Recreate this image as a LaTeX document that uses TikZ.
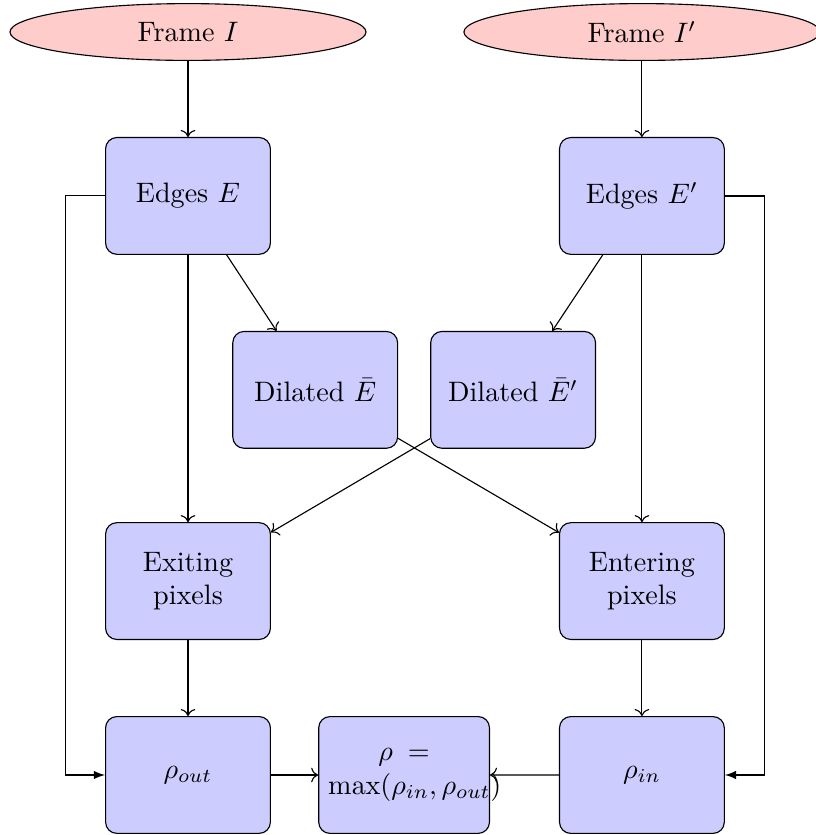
\documentclass[tikz,border=0pt]{standalone}
\usepackage{amsmath}
\usepackage{tikz}
\usetikzlibrary{shapes.geometric, arrows.meta, positioning}

\begin{document}
\begin{tikzpicture}[
    node distance=0.95cm and 0.4cm,
    framenode/.style={ellipse, draw, fill=red!20, minimum width=4.45cm, minimum height=0.71cm},
    procbox/.style={rectangle, draw, rounded corners, fill=blue!20, minimum width=2.06cm, minimum height=1.46cm, text width=1.8cm, align=center},
    arrow/.style={->},
    looparrow/.style={-latex},
]
    \useasboundingbox (0,0) rectangle (10.2,-10.4375);

    % Frames
    \node[framenode] (frameI) at (2.35,-0.4) {Frame $I$};
    \node[framenode, right=1.21cm of frameI] (frameIp) {Frame $I'$};

    % Edge maps
    \node[procbox, below=of frameI] (edgesE) {Edges $E$};
    \node[procbox, below=of frameIp] (edgesEp) {Edges $E'$};

    % Dilated edges
    \node[procbox, below=of edgesE, xshift=1.59cm] (dilE) {Dilated $\bar{E}$};
    \node[procbox, right=of dilE] (dilEp) {Dilated $\bar{E}'$};

    % Pixel sets
    \node[procbox, below=3.34cm of edgesE] (exiting) {Exiting pixels};
    \node[procbox, below=3.34cm of edgesEp] (entering) {Entering pixels};

    % Ratios
    \node[procbox, below=of exiting] (rhoOut) {$\rho_{out}$};
    \node[procbox, below=of entering] (rhoIn) {$\rho_{in}$};
    \node[procbox, right=0.59cm of rhoOut, text width=1.9cm] (rhoMax) {$\rho = \max(\rho_{in},\rho_{out})$};

    % Arrows
    \draw[arrow] (frameI) -- (edgesE);
    \draw[arrow] (frameIp) -- (edgesEp);
    \draw[arrow] (edgesE) -- (dilE);
    \draw[arrow] (edgesEp) -- (dilEp);
    \draw[arrow] (edgesE) -- (exiting);
    \draw[arrow] (edgesEp) -- (entering);
    \draw[arrow] (dilE) -- (entering);
    \draw[arrow] (dilEp) -- (exiting);
    \draw[arrow] (exiting) -- (rhoOut);
    \draw[arrow] (entering) -- (rhoIn);
    \draw[arrow] (rhoOut) -- (rhoMax);
    \draw[arrow] (rhoIn) -- (rhoMax);
    \draw[looparrow] (edgesE.west) -- ++(-0.49,0) |- (rhoOut.west);
    \draw[looparrow] (edgesEp.east) -- ++(0.49,0) |- (rhoIn.east);

\end{tikzpicture}
\end{document}
